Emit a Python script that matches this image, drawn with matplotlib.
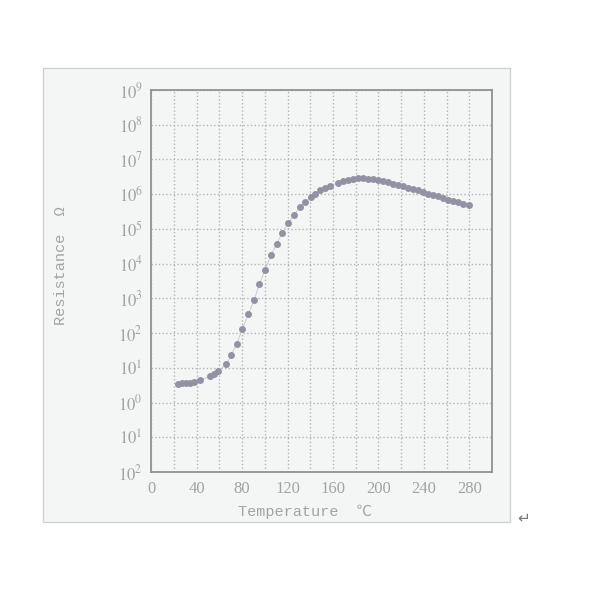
import numpy as np
import matplotlib.pyplot as plt
from matplotlib.patches import Rectangle

# data
temperature = [23.4, 27.0, 30.5, 34.0, 38.0, 43.0, 52.0, 55.4, 58.6, 66.0,
               70.3, 75.3, 80.3, 85.5, 90.8, 95.2, 100.2, 105.5, 110.4, 115.4,
               120.7, 126.0, 131.0, 135.6, 140.3, 144.0, 148.5, 153.0, 157.0, 164.6,
               169.0, 173.4, 177.8, 182.2, 186.6, 191.0, 195.4, 199.8, 204.2, 208.6,
               213.0, 217.4, 221.8, 226.2, 230.6, 235.0, 239.4, 243.8, 248.0, 252.5,
               257.0, 261.3, 265.7, 270.0, 274.5, 279.8]
resistance = [3.5, 3.6, 3.7, 3.8, 3.9, 4.4, 5.8, 6.5, 8.1, 12.6,
              23, 50, 135, 360, 930, 2.6e3, 6.6e3, 1.8e4, 3.7e4, 7.8e4,
              1.45e5, 2.6e5, 4.3e5, 6.0e5, 8.3e5, 1.0e6, 1.3e6, 1.55e6, 1.75e6, 2.15e6,
              2.4e6, 2.6e6, 2.8e6, 2.9e6, 2.9e6, 2.8e6, 2.7e6, 2.5e6, 2.35e6, 2.2e6,
              2.0e6, 1.8e6, 1.7e6, 1.55e6, 1.4e6, 1.3e6, 1.15e6, 1.05e6, 9.5e5, 8.7e5,
              7.8e5, 6.9e5, 6.3e5, 5.8e5, 5.2e5, 4.8e5]

xticks = [0, 40, 80, 120, 160, 200, 240, 280]
yticks = [1e-2, 1e-1, 1e0, 1e1, 1e2, 1e3, 1e4, 1e5, 1e6, 1e7, 1e8, 1e9]
# the scan lost the minus signs on the two lowest labels
ytick_labels = ['$10^2$', '$10^1$', '$10^0$', '$10^1$', '$10^2$', '$10^3$',
                '$10^4$', '$10^5$', '$10^6$', '$10^7$', '$10^8$', '$10^9$']

plt.rcParams['mathtext.fontset'] = 'stix'
txt = '#a0a4a6'
bg = '#f4f6f6'
mono = ['Liberation Mono', 'Noto Sans CJK SC', 'DejaVu Sans']

fig = plt.figure(figsize=(6, 6), dpi=100)
fig.patch.set_facecolor('white')
# light scanned panel behind the chart
fig.patches.append(Rectangle((0.072, 0.130), 0.778, 0.757, transform=fig.transFigure,
                             facecolor=bg, edgecolor='#cfd2d3', lw=1.0, zorder=-5))

ax = fig.add_axes([0.252, 0.213, 0.568, 0.637])
ax.set_zorder(2)
ax.set_facecolor(bg)
ax.plot(temperature, resistance, color='#c4c6cc', lw=0.6, zorder=2)
ax.plot(temperature, resistance, 'o', color='#9292a2', ms=5, mec='none', zorder=3)

ax.set_yscale('log')
ax.set_xlim(0, 300)
ax.set_ylim(1e-2, 1e9)
ax.set_xticks(xticks)
ax.set_xticks(np.arange(20, 300, 40), minor=True)
ax.set_yticks(yticks)
ax.set_yticklabels(ytick_labels)
ax.yaxis.set_minor_locator(plt.NullLocator())
ax.tick_params(length=0, which='both', colors=txt, labelsize=12, pad=6)
for lab in ax.get_xticklabels():
    lab.set_family('Liberation Serif')
ax.grid(True, which='both', color='#b0b4b6', ls=':', lw=1.0)
for sp in ax.spines.values():
    sp.set_color('#8e9294')
    sp.set_linewidth(1.3)

ax.set_xlabel('Temperature  \u2103', family=mono, color=txt, fontsize=11)
ax.set_ylabel('Resistance  \u03a9', family=mono, color=txt, fontsize=11)
ax.xaxis.set_label_coords(0.45, -0.086)
ax.yaxis.set_label_coords(-0.243, 0.54)

fig.text(0.872, 0.137, '\u21b5', color='#777777', fontsize=11, ha='center', va='center')

fig.savefig('out.png', dpi=100)
